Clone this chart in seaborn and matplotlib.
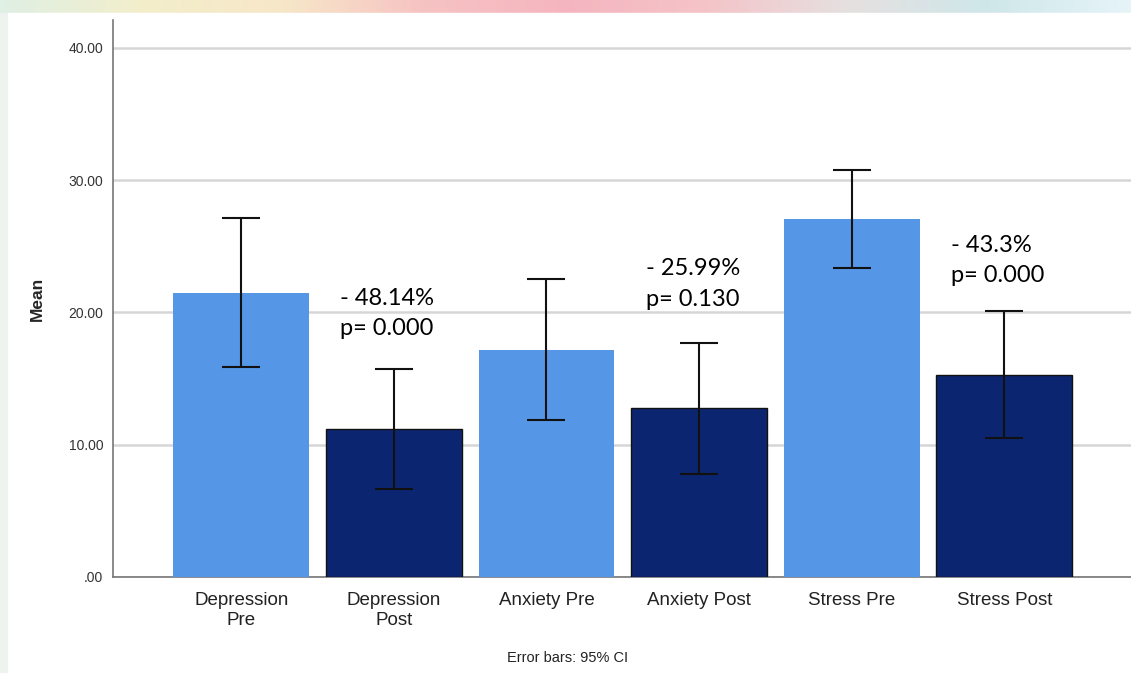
import numpy as np
import pandas as pd
import matplotlib
matplotlib.use("Agg")
import matplotlib.pyplot as plt
from matplotlib.colors import LinearSegmentedColormap
import seaborn as sns

# ---- data ----
categories = ["Depression\nPre", "Depression\nPost", "Anxiety Pre", "Anxiety Post", "Stress Pre", "Stress Post"]
means = [21.47, 11.19, 17.16, 12.78, 27.07, 15.27]
ci_lower = [15.88, 6.65, 11.87, 7.79, 23.36, 10.51]
ci_upper = [27.15, 15.73, 22.53, 17.69, 30.77, 20.11]
phase = ["Pre", "Post", "Pre", "Post", "Pre", "Post"]
change_labels = ["- 48.14%\np= 0.000", "- 25.99%\np= 0.130", "- 43.3%\np= 0.000"]
change_bars = [1, 3, 5]
change_y = [19.9, 22.15, 23.9]
yticks = [0, 10, 20, 30, 40]
ytick_labels = [".00", "10.00", "20.00", "30.00", "40.00"]

sns.set_theme(style="white")
plt.rcParams["font.family"] = ["Liberation Sans", "DejaVu Sans"]

fig = plt.figure(figsize=(11.31, 6.73), dpi=100)
fig.patch.set_facecolor("#f4f6f5")

# decorative pastel strip at the top (background of the slide)
bg = fig.add_axes([0, 0, 1, 1], zorder=-10)
strip_cmap = LinearSegmentedColormap.from_list(
    "strip", ["#dff0e4", "#f3eecb", "#f7e7c8", "#f6c3c3", "#f5b5c0", "#f4c4c8", "#e6e0e0", "#cfe7ea", "#e6f4f8"])
bg.imshow(np.linspace(0, 1, 256)[None, :], aspect="auto", cmap=strip_cmap,
          extent=[0, 1, 0, 1])
bg.set_xlim(0, 1); bg.set_ylim(0, 1)
bg.add_patch(plt.Rectangle((7 / 1131, 0), 1, 1 - 13 / 673, color="white", zorder=2))
bg.add_patch(plt.Rectangle((0, 0), 7 / 1131, 1 - 13 / 673, color="#eef3f0", zorder=2))
bg.axis("off")

ax = fig.add_axes([113 / 1131, 96 / 673, 1 - 113 / 1131, (577 - 20) / 673])
ax.set_facecolor("none")

df = pd.DataFrame({"cat": categories, "mean": means, "phase": phase})
palette = {"Pre": "#5596e6", "Post": "#0b2570"}
sns.barplot(data=df, x="cat", y="mean", hue="phase", palette=palette, dodge=False,
            width=0.89, saturation=1, legend=False, ax=ax, zorder=3)
for i, bar in enumerate(sorted(ax.patches, key=lambda p: p.get_x())):
    if phase[i] == "Post":
        bar.set_edgecolor("#111111")
        bar.set_linewidth(1.0)
    else:
        bar.set_edgecolor("none")

xpos = np.arange(len(categories))
m = np.array(means)
err = np.vstack([m - np.array(ci_lower), np.array(ci_upper) - m])
ax.errorbar(xpos, m, yerr=err, fmt="none", ecolor="#111111", elinewidth=1.5,
            capsize=13.5, capthick=1.5, zorder=4)

for b, lab, yy in zip(change_bars, change_labels, change_y):
    ax.text(b - 0.35, yy, lab, ha="left", va="center", fontsize=17,
            family=["Lato", "DejaVu Sans"], color="black", linespacing=1.55, zorder=5)

ax.set_xlim(-0.84, 5.83)
ax.set_ylim(0, 42.1)
ax.set_yticks(yticks)
ax.set_yticklabels(ytick_labels, fontsize=10, color="#333333")
ax.set_xticks(xpos)
ax.set_xticklabels(categories, fontsize=13.5, color="#222222", linespacing=1.2)
ax.tick_params(axis="x", length=0, pad=11)
ax.tick_params(axis="y", length=0, pad=7)
ax.yaxis.grid(True, color="#d6d6d6", linewidth=1.8, zorder=0)
ax.set_axisbelow(True)
ax.set_xlabel("")
ax.set_ylabel("Mean", fontsize=12.5, fontweight="bold", labelpad=17)
for s in ["top", "right"]:
    ax.spines[s].set_visible(False)
for s in ["left", "bottom"]:
    ax.spines[s].set_color("#777777")
    ax.spines[s].set_linewidth(1.2)

fig.text(568 / 1131, 1 - 658 / 673, "Error bars: 95% CI", ha="center", va="center",
         fontsize=10.5, color="#222222")

fig.savefig("out.png", dpi=100)
